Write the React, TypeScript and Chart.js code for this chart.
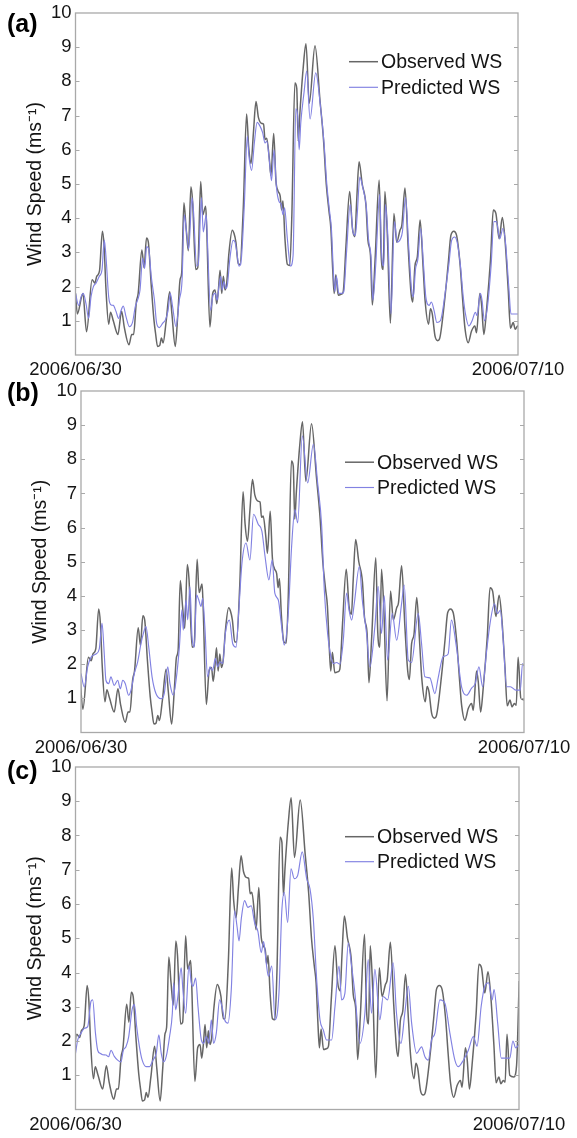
import React, { useEffect, useRef } from "react";
import { Chart, registerables } from "chart.js";

Chart.register(...registerables);

// ---------------- data ----------------
const PANEL_LETTERS = ["(a)", "(b)", "(c)"];
const SERIES_LABELS = ["Observed WS", "Predicted WS"];
const X_LABELS = ["2006/06/30", "2006/07/10"];
const Y_TICKS = [0, 1, 2, 3, 4, 5, 6, 7, 8, 9, 10];
const Y_TITLE = "Wind Speed (ms\u207B\u00B9)";
// each panel shows a 240-hour window; start offset (hours) of each window
const WINDOW_START = [0, 5, 8.3];
const WINDOW_LENGTH = 240;

// observed wind speed (hours from start of panel (a) window)
const OBS_HOURS = [0, 1, 4, 6, 9, 10.5, 11.5, 13, 14.6, 15.5, 16.5, 18, 19, 20.5, 23, 25, 26.5, 29, 30.5, 31.5, 33, 34, 36, 37.2, 38.5, 39.5, 41, 42.5, 43.5, 44.5, 45.7, 46.6, 47.5, 49.1, 51.1, 52.3, 54.1, 55.5, 56.7, 57.6, 58.8, 60, 61.2, 62.6, 63.5, 65.2, 66.3, 67.9, 69, 70.6, 71.1, 72.9, 74.4, 75.7, 76.6, 77.5, 78.4, 79.3, 80.2, 81.1, 82, 83.2, 85, 86, 87, 88.3, 89.2, 91, 92.8, 93.9, 95.2, 96.5, 97.9, 99.2, 101, 102, 102.8, 103.7, 105.1, 106, 107.5, 108.7, 109.8, 111, 111.8, 112.5, 113.6, 114.9, 116.2, 117.3, 119, 120, 120.8, 121.7, 123.5, 125, 126.8, 129.9, 132.6, 134.5, 136, 137.5, 138.5, 139.5, 140.3, 141.2, 142.5, 144.3, 145.2, 146.7, 148.7, 150.2, 151.5, 152.5, 153.8, 155.5, 157.5, 158.6, 160, 161, 162.5, 164.7, 165.8, 166.9, 167.8, 169.1, 170.8, 172.7, 174.2, 176, 177, 178.7, 180.5, 182, 182.9, 184.1, 185.4, 186.9, 188.5, 189.6, 191.5, 192.5, 193.5, 195, 196.5, 197.6, 200.4, 202.2, 203.6, 205.2, 206.7, 208.5, 210, 211.2, 213, 214.8, 216.6, 217.5, 219.3, 220.2, 221.5, 222.9, 225.1, 226.6, 228, 229.8, 231.5, 232.9, 234.7, 235.9, 237.4, 238.5, 239.8, 240.8, 241.8, 243.3, 245.5, 247, 248.4];
const OBS_WS = [1.8, 1.2, 1.8, 0.68, 2.2, 2.1, 2.3, 2.45, 3.62, 3.2, 1.95, 0.9, 1.25, 1.0, 0.6, 1.28, 0.8, 0.3, 0.6, 0.6, 1.55, 1.8, 3.07, 2.55, 3.42, 3.3, 2.1, 1.05, 0.6, 0.25, 0.28, 0.5, 0.35, 0.95, 1.85, 1.2, 0.25, 1.2, 2.2, 2.4, 4.45, 3.7, 3.05, 4.92, 4.5, 2.5, 2.55, 5.07, 4.1, 4.35, 3.8, 0.82, 1.8, 1.9, 1.5, 1.9, 2.48, 1.8, 2.3, 1.9, 2.1, 2.97, 3.65, 3.55, 3.3, 2.65, 2.65, 4.3, 7.05, 6.1, 5.6, 6.5, 7.41, 6.95, 6.77, 6.75, 6.3, 6.34, 5.75, 5.25, 6.48, 5.1, 4.8, 4.65, 4.24, 4.5, 3.4, 2.65, 2.62, 4.0, 7.95, 7.8, 6.25, 7.07, 8.4, 9.1, 7.36, 9.04, 7.45, 6.3, 5.0, 4.2, 3.7, 2.5, 1.8, 2.35, 1.75, 1.78, 1.85, 3.2, 4.78, 3.7, 3.46, 4.5, 5.65, 5.0, 4.4, 3.36, 2.9, 1.46, 2.8, 5.12, 2.9, 2.5, 4.78, 3.56, 0.93, 4.14, 3.3, 3.65, 3.8, 4.88, 3.07, 1.8, 1.55, 2.6, 2.87, 3.95, 2.6, 1.6, 0.9, 1.35, 1.2, 0.55, 0.42, 0.5, 1.7, 2.7, 3.5, 3.62, 3.5, 2.7, 1.6, 0.8, 0.36, 0.7, 0.85, 0.65, 1.8, 1.5, 0.6, 1.3, 2.8, 4.24, 4.14, 3.4, 4.02, 3.4, 1.9, 0.78, 0.95, 0.75, 0.85, 0.8, 2.2, 1.0, 0.95, 1.3, 3.75];

// predicted wind speed, panel (a) (hours from start of its window)
const PRED_A_HOURS = [0, 1.7, 3, 4.2, 5.7, 7.1, 8.4, 9.7, 11.1, 12.9, 14.4, 15.6, 16.5, 18, 19.3, 20.5, 22, 23.4, 24.7, 25.9, 27.4, 29.2, 31, 32.4, 33.7, 35, 36.4, 37.5, 38.6, 39.7, 41.1, 42.8, 44, 45.5, 47.3, 48.7, 50.2, 51.4, 52.7, 54.5, 56.3, 57.8, 59, 60.3, 61.4, 63.2, 64, 65.7, 66.6, 68.3, 69.3, 70.9, 71.5, 73.3, 74.6, 75.9, 76.8, 77.8, 78.8, 79.6, 80.5, 81.5, 82.4, 83.7, 85.5, 86.5, 87.5, 88.7, 89.6, 91.5, 93.2, 94.1, 95.5, 97, 98.5, 100, 101.5, 102.8, 103.8, 105.3, 106.3, 107.7, 109, 110.3, 111.6, 112.5, 113.4, 114.9, 116.6, 118, 119.5, 120.5, 121.3, 122.2, 124, 125.4, 127.2, 130.3, 133, 134.8, 136.3, 137.8, 138.8, 139.9, 140.7, 141.5, 142.8, 144.5, 145.5, 147, 149, 150.5, 151.8, 152.8, 154.2, 155.8, 157.8, 158.9, 160.3, 161.3, 162.8, 165, 166, 167.2, 168.1, 169.4, 171.1, 173, 174.5, 176.3, 177.3, 179, 180.8, 182.3, 183.2, 184.4, 185.7, 187.2, 188.8, 190, 191.8, 193, 194.5, 196, 197.9, 200.7, 202.5, 204, 205.6, 207, 208.8, 210.3, 211.5, 213.3, 215.1, 216.9, 217.8, 219.6, 220.5, 221.8, 223.2, 225.4, 226.9, 228.3, 230.1, 231.8, 233.2, 235, 236.2, 237.7, 238.8, 240];
const PRED_A_WS = [1.8, 1.45, 1.7, 1.8, 1.5, 1.07, 1.7, 2.0, 2.1, 2.3, 2.5, 3.36, 2.9, 1.7, 1.46, 1.45, 1.27, 1.07, 1.3, 1.43, 1.12, 0.83, 0.97, 1.41, 1.61, 1.9, 2.83, 2.53, 3.17, 3.1, 2.29, 1.61, 0.93, 0.8, 0.93, 1.02, 1.3, 1.8, 1.4, 0.83, 1.6, 2.19, 4.1, 3.56, 3.1, 4.6, 4.2, 2.6, 2.65, 4.6, 3.6, 4.1, 3.4, 1.3, 1.75, 1.8, 1.6, 2.0, 2.3, 1.9, 2.15, 1.95, 2.05, 2.8, 3.35, 3.3, 3.0, 2.6, 2.65, 4.3, 6.4, 5.8, 5.4, 6.2, 6.8, 6.7, 6.5, 6.2, 6.25, 5.6, 5.1, 6.0, 4.9, 4.5, 4.4, 4.1, 4.3, 3.4, 2.6, 2.9, 7.2, 7.0, 6.0, 6.8, 7.7, 8.3, 6.9, 8.25, 7.2, 6.2, 5.0, 4.2, 3.7, 2.4, 1.85, 2.3, 1.8, 1.8, 1.85, 3.0, 4.4, 3.6, 3.5, 4.1, 5.2, 4.9, 4.3, 3.4, 2.85, 1.6, 2.6, 4.7, 3.0, 2.6, 4.4, 3.5, 1.2, 3.9, 3.3, 3.4, 3.6, 4.6, 3.1, 1.9, 1.7, 2.5, 2.8, 3.7, 2.6, 1.7, 1.45, 1.55, 1.3, 0.95, 1.0, 1.9, 2.65, 3.35, 3.45, 3.3, 2.6, 1.7, 1.2, 0.85, 1.0, 1.25, 1.15, 1.8, 1.6, 1.0, 1.3, 2.6, 3.9, 3.9, 3.4, 3.7, 3.3, 2.0, 1.2, 1.2, 1.2, 1.2];

// predicted wind speed, panel (b)
const PRED_B_HOURS = [0, 1.8, 3.6, 5.4, 8.1, 9.9, 11.4, 12.6, 13.5, 15, 16.2, 18, 19.9, 21.3, 22.6, 24, 25.8, 27.1, 28.9, 30.7, 32.5, 33.8, 35.2, 36.7, 38.5, 40.6, 43.3, 45.1, 47, 48.2, 50, 51.5, 53.3, 54.7, 55.4, 56.9, 57.8, 59, 60.1, 61.4, 62.6, 63.7, 65, 65.9, 67.1, 68.6, 69.9, 71.3, 72.8, 74, 75.3, 76.8, 78.2, 80.4, 82.2, 84, 85.4, 87.2, 89.4, 91.5, 93.5, 96, 98, 99.7, 101.8, 103.6, 105, 106.9, 108.7, 110.1, 112.3, 114.1, 115.9, 117.4, 119.9, 122.8, 125.9, 128.2, 130.4, 131.8, 133.6, 135.4, 136.7, 138.5, 140.3, 142.1, 143.9, 145.2, 146.6, 148.1, 150.8, 152.4, 154.7, 156.5, 159.2, 161, 162.8, 164.3, 166.1, 168.6, 171, 173.7, 175.1, 177.3, 179.1, 182.7, 184.5, 186.3, 189, 191.7, 193.5, 196.2, 198.9, 200.7, 203.4, 206.2, 208.9, 211.6, 213.6, 215.6, 217.6, 219.6, 221.6, 224, 225.6, 227.2, 228.6, 230.6, 232.6, 235.6, 238, 239.2, 240];
const PRED_B_WS = [1.73, 1.33, 1.92, 2.2, 2.3, 2.45, 3.2, 2.3, 1.53, 1.43, 1.63, 1.38, 1.53, 1.28, 1.53, 1.43, 1.09, 1.24, 1.73, 2.07, 2.6, 2.9, 3.1, 2.5, 1.63, 1.14, 0.99, 1.14, 1.92, 1.43, 1.09, 1.53, 2.5, 3.59, 3.0, 3.88, 3.3, 4.27, 2.85, 2.5, 4.03, 3.9, 3.69, 3.93, 3.1, 1.63, 1.92, 1.82, 2.17, 1.92, 2.07, 2.02, 2.9, 3.29, 2.6, 2.5, 3.5, 4.96, 5.55, 5.05, 6.39, 6.1, 5.9, 5.16, 4.47, 5.06, 4.08, 3.88, 3.1, 2.56, 3.49, 5.45, 6.53, 6.14, 8.69, 7.31, 8.44, 7.31, 6.04, 4.18, 2.9, 2.22, 2.02, 2.05, 2.0, 2.7, 4.08, 3.59, 3.29, 3.8, 4.86, 3.88, 2.9, 1.92, 3.1, 4.27, 2.9, 4.0, 2.12, 3.49, 2.7, 3.78, 4.32, 2.12, 2.05, 3.49, 2.6, 1.63, 1.6, 1.14, 1.6, 2.22, 2.3, 3.29, 2.5, 1.33, 1.09, 1.3, 1.44, 1.92, 1.34, 2.31, 3.19, 3.77, 3.48, 3.58, 2.8, 1.34, 1.34, 1.24, 1.24, 2.02, 1.95];

// predicted wind speed, panel (c)
const PRED_C_HOURS = [0, 1.2, 3, 4.8, 6.6, 8.4, 9.3, 10.8, 12, 13.3, 14.7, 16.5, 17.9, 19.2, 21, 22.8, 24.6, 25.9, 27.3, 28.8, 30.6, 31.9, 33.1, 34.6, 36.1, 38.2, 40, 41.9, 43.7, 45.1, 46.4, 47.7, 49.1, 50.9, 52.4, 53.1, 54.2, 55.4, 57.2, 58.1, 59.6, 61.4, 62.7, 63.6, 65, 66.3, 68.1, 69.3, 70.8, 72.2, 73.5, 74.7, 76.2, 78, 79.3, 80.7, 82.5, 84.3, 86.1, 87.4, 88.5, 89.7, 91.5, 93.3, 95.1, 96.9, 98.7, 100.5, 101.8, 103.2, 104.4, 106.2, 108, 110.1, 111.6, 113, 114.8, 116.6, 118.4, 120.2, 122.7, 125.1, 126.9, 128.7, 130.5, 132.3, 134.1, 135.9, 138.6, 140.4, 142.6, 144, 145.8, 147.6, 149.4, 151.2, 153.9, 156.6, 158.4, 160.2, 162, 164.7, 166.5, 168.9, 171.9, 173.7, 176.1, 178.2, 180.1, 181.9, 184.6, 187.3, 189.1, 190.9, 192.7, 194.5, 197.2, 199.9, 202.6, 205.3, 207.1, 209.9, 212.6, 215.3, 217.3, 219.5, 221.5, 223.5, 225.5, 226.5, 228.5, 230.4, 233, 235, 236.7, 238.2, 240];
const PRED_C_WS = [1.64, 2.03, 2.23, 2.37, 2.42, 3.16, 3.2, 2.23, 1.73, 1.64, 1.6, 1.59, 1.54, 1.73, 1.55, 1.44, 1.39, 1.73, 1.83, 2.13, 2.91, 3.06, 2.42, 1.83, 1.44, 1.25, 1.25, 1.44, 1.64, 2.18, 1.64, 1.39, 1.55, 2.13, 2.81, 3.7, 2.91, 3.3, 4.14, 3.5, 2.81, 4.19, 3.7, 3.6, 3.84, 3.0, 2.03, 1.93, 2.13, 1.93, 2.62, 1.93, 2.23, 3.2, 3.0, 2.62, 2.52, 3.5, 5.8, 5.35, 4.92, 5.56, 6.1, 5.9, 5.95, 5.46, 5.2, 4.58, 4.9, 4.28, 3.89, 4.19, 2.62, 3.4, 5.75, 6.34, 5.46, 7.03, 6.74, 6.83, 7.52, 6.74, 6.44, 5.56, 3.8, 2.62, 2.32, 2.03, 2.03, 3.0, 4.19, 3.2, 3.4, 4.87, 4.19, 3.4, 1.93, 2.81, 4.38, 2.81, 4.09, 2.62, 3.3, 3.2, 4.28, 2.81, 1.93, 2.81, 3.6, 2.52, 1.64, 1.83, 1.54, 1.44, 2.03, 2.23, 3.2, 3.1, 2.23, 1.44, 1.25, 1.44, 1.73, 2.13, 1.85, 3.0, 3.6, 3.7, 3.2, 3.5, 2.5, 1.5, 1.5, 1.5, 2.0, 1.8, 1.9];

const PRED_HOURS = [PRED_A_HOURS, PRED_B_HOURS, PRED_C_HOURS];
const PRED_WS = [PRED_A_WS, PRED_B_WS, PRED_C_WS];

// ---------------- layout / style ----------------
const W = 577;
const FONT = "'Liberation Sans', Arial, Helvetica, sans-serif";
const TEXT = "#141414";
const OBS_COLOR = "#666666";
const PRED_COLOR = "#8282e2";
const FRAME = "#a9a9a9";
const PAD_T = 40;
const PAD_B = 40;
const X_AXIS_H = 30;
const Y_AXIS_W = 52;

const PANELS = [
  { top: 13, bottom: 355, left: 75.5, right: 518, legDx: 273.5, legDy: [48.7, 74.3], letterY: 25 },
  { top: 390.5, bottom: 732, left: 81, right: 524, legDx: 264, legDy: [71.2, 96.5], letterY: 394 },
  { top: 767, bottom: 1109.5, left: 75.5, right: 519, legDx: 269.5, legDy: [69.7, 94.7], letterY: 772 },
];

const decorPlugin = {
  id: "decor",
  afterDatasetsDraw(chart: any, _args: any, opts: any) {
    const { ctx, chartArea: a, scales } = chart;
    const y = scales.y;
    ctx.save();
    ctx.strokeStyle = FRAME;
    ctx.lineWidth = 1.3;
    ctx.strokeRect(a.left, a.top, a.right - a.left, a.bottom - a.top);
    ctx.lineWidth = 1;
    ctx.beginPath();
    Y_TICKS.forEach((v) => {
      if (v === 0 || v === 10) return;
      const py = Math.round(y.getPixelForValue(v)) + 0.5;
      ctx.moveTo(a.left, py);
      ctx.lineTo(a.left + 4, py);
      ctx.moveTo(a.right - 4, py);
      ctx.lineTo(a.right, py);
    });
    ctx.stroke();

    // legend
    ctx.font = `19.5px ${FONT}`;
    ctx.textBaseline = "middle";
    ctx.textAlign = "left";
    chart.data.datasets.forEach((ds: any, i: number) => {
      const ly = a.top + opts.legDy[i];
      const lx = a.left + opts.legDx;
      ctx.strokeStyle = ds.borderColor;
      ctx.lineWidth = ds.borderWidth;
      ctx.beginPath();
      ctx.moveTo(lx, ly);
      ctx.lineTo(lx + 29, ly);
      ctx.stroke();
      ctx.fillStyle = TEXT;
      ctx.fillText(ds.label, lx + 32, ly + 1);
    });

    // panel letter
    ctx.font = `bold 25px ${FONT}`;
    ctx.fillStyle = "#000";
    ctx.fillText(opts.letter, 7, opts.letterY);
    ctx.restore();
  },
};

function Panel({ idx }: { idx: number }) {
  const ref = useRef<HTMLCanvasElement | null>(null);
  const p = PANELS[idx];
  const canvasTop = p.top - PAD_T;
  const plotH = p.bottom - p.top;
  const H = Math.round(plotH + PAD_T + PAD_B);

  useEffect(() => {
    if (!ref.current) return;
    const start = WINDOW_START[idx];
    const obs = OBS_HOURS.map((h, i) => ({ x: h, y: OBS_WS[i] }));
    const pred = PRED_HOURS[idx].map((h, i) => ({ x: h + start, y: PRED_WS[idx][i] }));
    const chart = new Chart(ref.current, {
      type: "line",
      data: {
        datasets: [
          {
            label: SERIES_LABELS[0],
            data: obs,
            borderColor: OBS_COLOR,
            borderWidth: 1.5,
            pointRadius: 0,
            cubicInterpolationMode: "monotone",
            order: 1,
          },
          {
            label: SERIES_LABELS[1],
            data: pred,
            borderColor: PRED_COLOR,
            borderWidth: 1.15,
            pointRadius: 0,
            cubicInterpolationMode: "monotone",
            order: 0,
          },
        ],
      },
      options: {
        animation: false,
        responsive: false,
        events: [],
        layout: {
          padding: {
            left: p.left - Y_AXIS_W,
            right: W - p.right,
            top: p.top - canvasTop,
            bottom: H - (p.bottom - canvasTop) - X_AXIS_H,
          },
        },
        scales: {
          x: {
            type: "linear",
            min: start,
            max: start + WINDOW_LENGTH,
            afterBuildTicks: (s: any) => {
              s.ticks = [{ value: s.min }, { value: s.max }];
            },
            afterFit: (s: any) => {
              s.height = X_AXIS_H;
            },
            ticks: {
              autoSkip: false,
              maxRotation: 0,
              padding: 4,
              color: TEXT,
              font: { family: FONT, size: 18.5 },
              callback: (_v: any, i: number) => X_LABELS[i],
            },
            grid: { display: false, drawTicks: false },
            border: { display: false },
          },
          y: {
            type: "linear",
            min: 0,
            max: 10,
            afterBuildTicks: (s: any) => {
              s.ticks = Y_TICKS.map((v) => ({ value: v }));
            },
            afterFit: (s: any) => {
              s.width = Y_AXIS_W;
            },
            ticks: {
              padding: 4,
              color: TEXT,
              font: { family: FONT, size: 18.5 },
              callback: (v: any) => (v === 0 ? "" : String(v)),
            },
            grid: { display: false, drawTicks: false },
            border: { display: false },
            title: {
              display: true,
              text: Y_TITLE,
              color: TEXT,
              font: { family: FONT, size: 19.5 },
              padding: 0,
            },
          },
        },
        plugins: {
          legend: { display: false },
          tooltip: { enabled: false },
          decor: { legDx: p.legDx, legDy: p.legDy, letter: PANEL_LETTERS[idx], letterY: p.letterY - canvasTop },
        } as any,
      },
      plugins: [decorPlugin],
    } as any);
    return () => chart.destroy();
  }, [idx]);

  return (
    <canvas
      ref={ref}
      width={W}
      height={H}
      style={{ position: "absolute", left: 0, top: canvasTop, width: W, height: H }}
    />
  );
}

export default function App() {
  return (
    <div style={{ position: "absolute", left: 0, top: 0, width: W, height: 1138, background: "#fff", overflow: "hidden" }}>
      {[0, 1, 2].map((i) => (
        <Panel key={i} idx={i} />
      ))}
    </div>
  );
}
